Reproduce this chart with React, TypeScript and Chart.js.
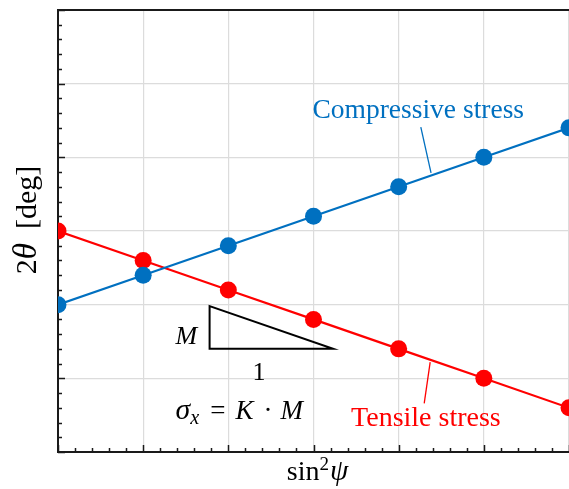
import { useEffect, useRef } from "react";
import { Chart, registerables } from "chart.js";

Chart.register(...registerables);

// sin^2(psi) positions and diffraction angle readings
const sin2psi = [0, 1, 2, 3, 4, 5, 6];
const compressive = [2.0, 2.4, 2.8, 3.2, 3.6, 4.0, 4.4];
const tensile = [3.0, 2.6, 2.2, 1.8, 1.4, 1.0, 0.6];

const BLUE = "#0070C0";
const RED = "#FF0000";
const INK = "#1a1a1a";
const SERIF = "'Liberation Serif', 'Times New Roman', serif";

type Run = { t: string; italic?: boolean; scale?: number; dy?: number; gapBefore?: number };

function fontFor(r: Run, size: number) {
  const s = size * (r.scale ?? 1);
  return `${r.italic ? "italic " : ""}${s}px ${SERIF}`;
}

// Lays out a sequence of styled text pieces on one baseline.
function drawRuns(
  ctx: CanvasRenderingContext2D,
  runs: Run[],
  x: number,
  y: number,
  size: number,
  color: string,
  align: "center" | "left" = "center"
) {
  ctx.save();
  ctx.fillStyle = color;
  ctx.textBaseline = "alphabetic";
  ctx.textAlign = "left";
  const widths = runs.map((r) => {
    ctx.font = fontFor(r, size);
    return ctx.measureText(r.t).width;
  });
  const total = runs.reduce((acc, r, i) => acc + widths[i] + (r.gapBefore ?? 0), 0);
  let cx = align === "center" ? x - total / 2 : x;
  runs.forEach((r, i) => {
    cx += r.gapBefore ?? 0;
    ctx.font = fontFor(r, size);
    ctx.fillText(r.t, cx, y + (r.dy ?? 0));
    cx += widths[i];
  });
  ctx.restore();
}

const frameAndTicks = {
  id: "frameAndTicks",
  beforeDatasetsDraw(chart: any) {
    const { ctx, chartArea: a, scales } = chart;
    const xs = scales.x;
    const ys = scales.y;
    ctx.save();
    ctx.strokeStyle = INK;
    ctx.lineWidth = 1.5;
    // inward minor / major ticks on bottom axis
    for (let i = 0; i <= 30; i++) {
      const px = Math.round(xs.getPixelForValue(i / 5)) + 0.5;
      const len = i % 5 === 0 ? 7 : 4;
      ctx.beginPath();
      ctx.moveTo(px, a.bottom);
      ctx.lineTo(px, a.bottom - len);
      ctx.stroke();
    }
    // inward minor / major ticks on left axis
    for (let i = 0; i <= 30; i++) {
      const py = Math.round(ys.getPixelForValue(i / 5)) + 0.5;
      const len = i % 5 === 0 ? 7 : 4;
      ctx.beginPath();
      ctx.moveTo(a.left, py);
      ctx.lineTo(a.left + len, py);
      ctx.stroke();
    }
    // top frame line
    ctx.lineWidth = 2;
    ctx.beginPath();
    ctx.moveTo(a.left - 1, a.top);
    ctx.lineTo(a.right, a.top);
    ctx.stroke();
    ctx.restore();
  },
};

const notes = {
  id: "notes",
  afterDatasetsDraw(chart: any) {
    const { ctx, chartArea: a, scales } = chart;
    const X = (v: number) => scales.x.getPixelForValue(v);
    const Y = (v: number) => scales.y.getPixelForValue(v);

    ctx.save();
    // leader lines
    ctx.lineWidth = 1.3;
    ctx.strokeStyle = BLUE;
    ctx.beginPath();
    ctx.moveTo(X(4.26), Y(4.41));
    ctx.lineTo(X(4.38), Y(3.79));
    ctx.stroke();
    ctx.strokeStyle = RED;
    ctx.beginPath();
    ctx.moveTo(X(4.37), Y(1.22));
    ctx.lineTo(X(4.3), Y(0.66));
    ctx.stroke();

    // slope triangle
    ctx.strokeStyle = "#000";
    ctx.lineWidth = 2;
    ctx.lineJoin = "miter";
    ctx.beginPath();
    ctx.moveTo(X(1.78), Y(1.98));
    ctx.lineTo(X(1.78), Y(1.4));
    ctx.lineTo(X(3.23), Y(1.4));
    ctx.closePath();
    ctx.stroke();
    ctx.restore();

    drawRuns(ctx, [{ t: "Compressive stress" }], X(4.23), Y(4.54), 27.5, BLUE);
    drawRuns(ctx, [{ t: "Tensile stress" }], X(4.32), Y(0.35), 28, RED);
    drawRuns(ctx, [{ t: "M", italic: true }], X(1.506), Y(1.46), 26, "#000");
    drawRuns(ctx, [{ t: "1" }], X(2.36), Y(0.98), 26, "#000");
    drawRuns(
      ctx,
      [
        { t: "σ", italic: true, scale: 1.1 },
        { t: "x", italic: true, scale: 0.75, dy: 5 },
        { t: "=", gapBefore: 11 },
        { t: "K", italic: true, gapBefore: 10 },
        { t: "·", gapBefore: 10 },
        { t: "M", italic: true, gapBefore: 8 },
      ],
      X(1.38),
      Y(0.45),
      27,
      "#000",
      "left"
    );

    // axis titles
    drawRuns(
      ctx,
      [{ t: "sin" }, { t: "2", scale: 0.68, dy: -10 }, { t: "ψ", italic: true, gapBefore: 1, scale: 1.05 }],
      (a.left + a.right) / 2 + 4,
      a.bottom + 28,
      28,
      "#000"
    );
    ctx.save();
    ctx.translate(a.left - 31, Y(3.15));
    ctx.rotate(-Math.PI / 2);
    drawRuns(
      ctx,
      [{ t: "2" }, { t: "θ", italic: true, scale: 1.1 }, { t: "[deg]", gapBefore: 14 }],
      0,
      9,
      30,
      "#000"
    );
    ctx.restore();
  },
};

export default function App() {
  const ref = useRef<HTMLCanvasElement | null>(null);

  useEffect(() => {
    if (!ref.current) return;
    const chart = new Chart(ref.current, {
      type: "line",
      data: {
        datasets: [
          {
            label: "Compressive stress",
            data: sin2psi.map((x, i) => ({ x, y: compressive[i] })),
            borderColor: BLUE,
            backgroundColor: BLUE,
            borderWidth: 2.2,
            pointRadius: 8.5,
            pointBorderWidth: 0,
            pointBackgroundColor: BLUE,
          },
          {
            label: "Tensile stress",
            data: sin2psi.map((x, i) => ({ x, y: tensile[i] })),
            borderColor: RED,
            backgroundColor: RED,
            borderWidth: 2.2,
            pointRadius: 8.5,
            pointBorderWidth: 0,
            pointBackgroundColor: RED,
          },
        ],
      },
      options: {
        animation: false,
        responsive: true,
        maintainAspectRatio: false,
        layout: { autoPadding: false, padding: { left: 50, top: 2, right: 0, bottom: 37 } },
        plugins: { legend: { display: false }, tooltip: { enabled: false } },
        scales: {
          x: {
            type: "linear",
            min: 0,
            max: 6,
            ticks: { display: false, stepSize: 1 },
            grid: { color: "#dcdcdc", lineWidth: 1.2, drawTicks: false },
            border: { display: true, color: INK, width: 2 },
          },
          y: {
            type: "linear",
            min: 0,
            max: 6,
            ticks: { display: false, stepSize: 1 },
            grid: { color: "#dcdcdc", lineWidth: 1.2, drawTicks: false },
            border: { display: true, color: INK, width: 2 },
          },
        },
      },
      plugins: [frameAndTicks, notes],
    });
    return () => chart.destroy();
  }, []);

  return (
    <div style={{ position: "fixed", left: 8, top: 8, width: 561, height: 481 }}>
      <canvas ref={ref} />
    </div>
  );
}
